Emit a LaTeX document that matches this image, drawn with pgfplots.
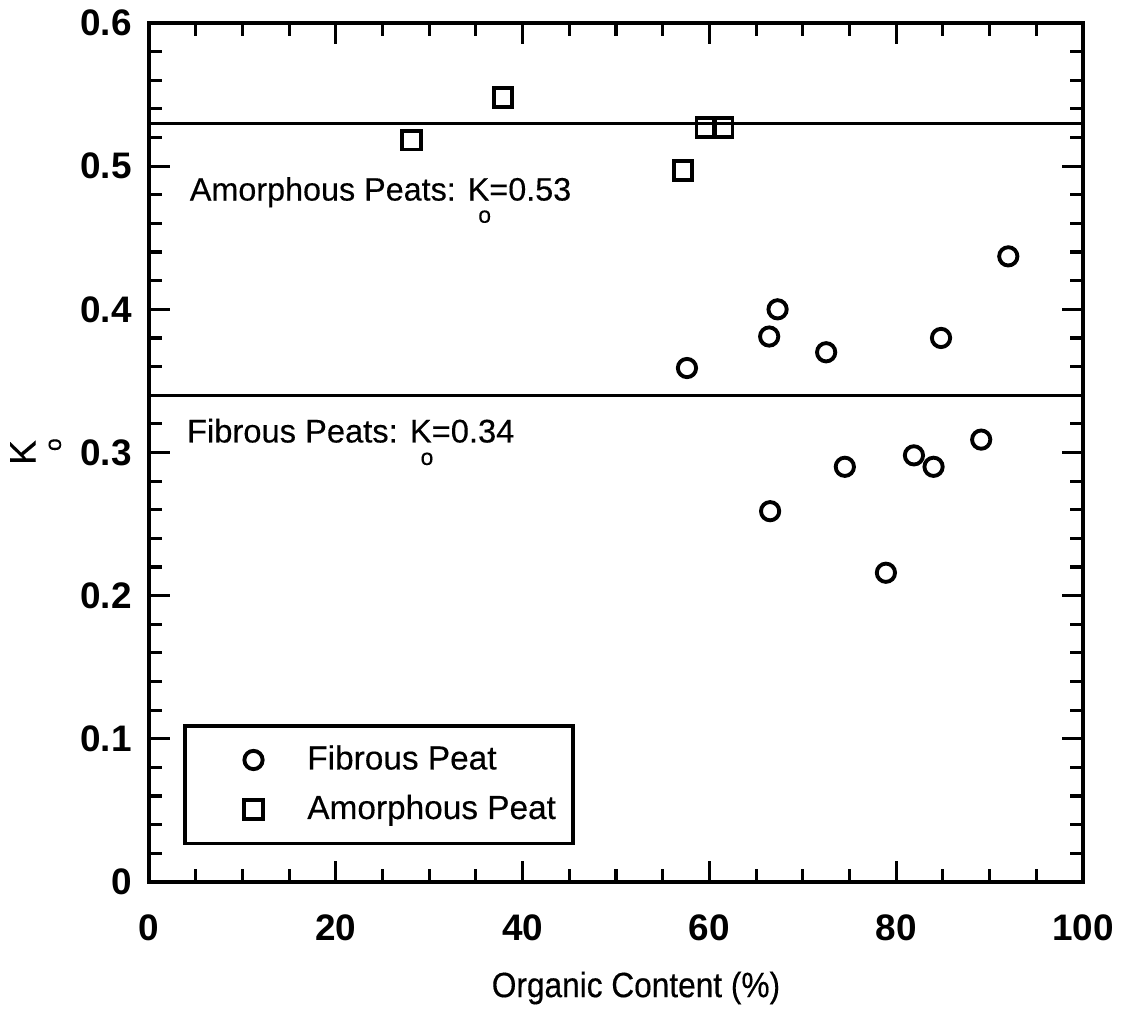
\documentclass[border=0pt]{standalone}
\usepackage{fontspec}
\setmainfont{Liberation Sans}
\newfontfamily\labelfont{Liberation Sans}[FakeStretch=0.9, FakeBold=0.4]
\newfontfamily\notefont{Liberation Sans}[FakeBold=0.3]
\usepackage{pgfplots}
\pgfplotsset{compat=1.18}

% K with a small "o" set beneath its right-hand side
\newcommand{\Ko}{K\llap{\raisebox{-1.3ex}{\fontsize{6.5}{6.5}\selectfont o}\kern-0.05em}}

\pgfplotstableread{
x     k
92.0  0.437
67.3  0.400
66.4  0.381
72.5  0.370
84.8  0.380
57.6  0.359
74.5  0.290
81.9  0.298
84.0  0.290
89.1  0.309
66.5  0.259
78.9  0.216
}\fibrous

\pgfplotstableread{
x     k
28.1  0.518
37.9  0.548
57.2  0.497
59.6  0.527
61.5  0.527
}\amorphous

\begin{document}
\begin{tikzpicture}
\begin{axis}[
  name=ax,
  scale only axis,
  width=9.34cm, height=8.59cm,
  xmin=0, xmax=100, ymin=0, ymax=0.6,
  xtick={0,20,...,100},
  ytick={0,0.1,...,0.6},
  minor x tick num=3,
  minor y tick num=4,
  tick align=inside,
  major tick length=0.21cm,
  minor tick length=0.13cm,
  every tick/.style={black, line width=0.9pt},
  axis line style={line width=1.1pt},
  /pgf/number format/assume math mode=true,
  /pgf/number format/fixed,
  /pgf/number format/precision=1,
  yticklabel style={font=\fontsize{10.5}{12}\selectfont\bfseries, xshift=-0.05cm},
  xticklabel style={font=\fontsize{10.5}{12}\selectfont\bfseries, yshift=-0.2cm},
  xlabel={Organic Content (\%)},
  xlabel style={font=\fontsize{10}{12}\selectfont\labelfont, yshift=-0.07cm, xshift=0.2cm},
  ylabel={\Ko},
  ylabel style={font=\fontsize{10.5}{12}\selectfont\notefont, yshift=-0.05cm},
  clip=false,
  legend style={
    at={(rel axis cs:0.0364,0.043)}, anchor=south west,
    draw=black, line width=1pt,
    font=\fontsize{9.5}{11}\selectfont\notefont,
    inner xsep=0.1cm, inner ysep=0.12cm,
    row sep=0.06cm,
    /tikz/every odd column/.append style={column sep=0.02cm},
    legend cell align=left,
  },
  legend image code/.code={
    \path (0cm,0cm) (1.0cm,0cm);
    \draw[#1] plot coordinates {(0.57cm,0cm)};
  },
]
% group means
\addplot[black, line width=0.8pt, forget plot] coordinates {(0,0.53) (100,0.53)};
\addplot[black, line width=0.8pt, forget plot] coordinates {(0,0.34) (100,0.34)};

\addplot[only marks, mark=o, mark size=2.6pt,
  mark options={black, line width=1.1pt}] table[x=x, y=k] {\fibrous};
\addlegendentry{Fibrous Peat}
\addplot[only marks, mark=square, mark size=2.6pt,
  mark options={black, line width=1.1pt}] table[x=x, y=k] {\amorphous};
\addlegendentry{Amorphous Peat}

\node[anchor=base west, inner sep=0, font=\fontsize{9.2}{11}\selectfont\notefont]
  at (axis cs:4.3,0.476) {Amorphous Peats: \Ko=0.53};
\node[anchor=base west, inner sep=0, font=\fontsize{9.3}{11}\selectfont\notefont]
  at (axis cs:4.0,0.307) {Fibrous Peats: \Ko=0.34};
\end{axis}
\pgfresetboundingbox
\path ([shift={(-1.49cm,-1.30cm)}]ax.south west) rectangle ([shift={(0.54cm,0.23cm)}]ax.north east);
\end{tikzpicture}
\end{document}
